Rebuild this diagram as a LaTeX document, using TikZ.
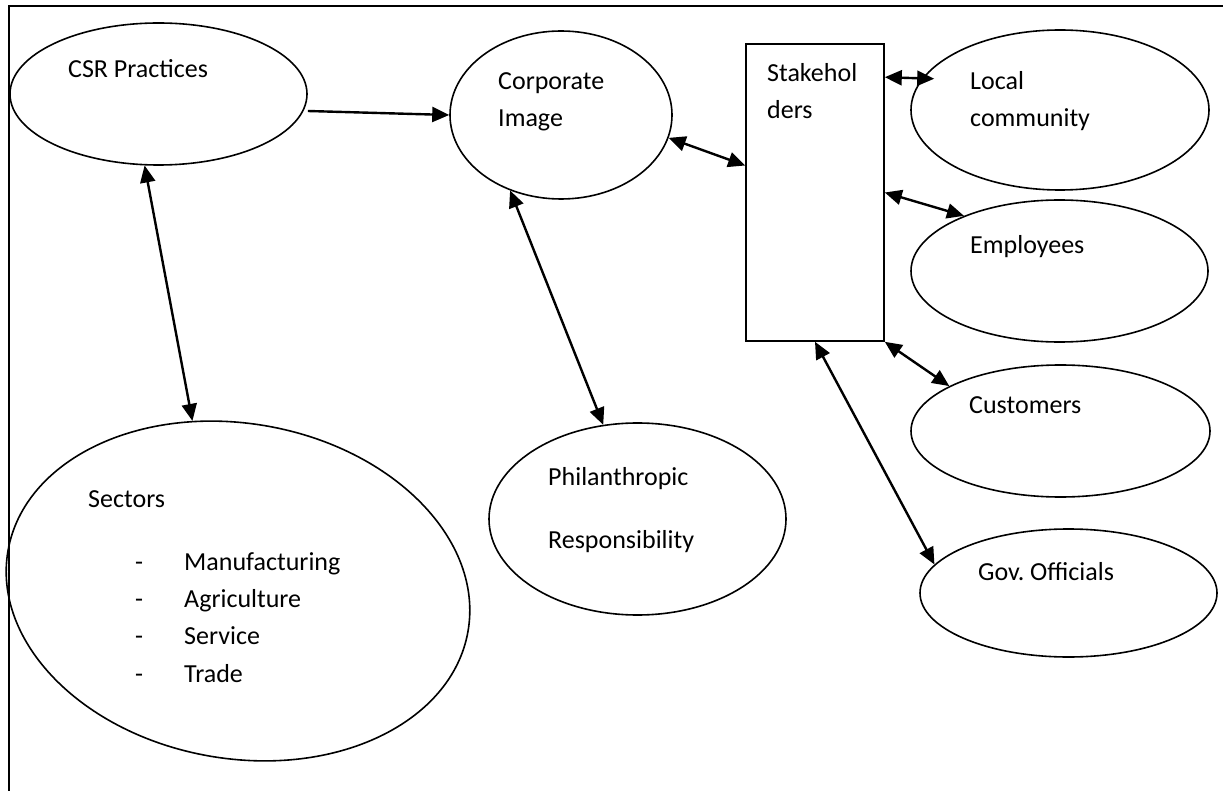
\documentclass[tikz,border=0pt]{standalone}
\usepackage{fontspec}
\setmainfont{Carlito}
\usetikzlibrary{shapes.geometric,arrows.meta}

\begin{document}
\begin{tikzpicture}[x=1pt,y=-1pt,
  ell/.style={draw,ellipse,line width=1.6pt,inner sep=0pt},
  lbl/.style={anchor=base west,inner sep=0pt,font=\fontsize{26}{31}\selectfont},
  link/.style={line width=2.4pt},
  >={Triangle[length=17pt,width=15pt]}]
\useasboundingbox (0,0) rectangle (1223,791);
% frame
\draw[line width=2pt] (9,791) -- (9,6) -- (1223,6);
% ellipses and the stakeholder box
\node[ell,minimum width=297pt,minimum height=142pt] (csr) at (158.5,94) {};
\node[ell,minimum width=222pt,minimum height=168pt] (corp) at (561,115) {};
\node[draw,rectangle,line width=1.6pt,minimum width=138pt,minimum height=297pt,inner sep=0pt] (stake) at (815,192.5) {};
\node[ell,minimum width=298pt,minimum height=160pt] (local) at (1060,110) {};
\node[ell,minimum width=297pt,minimum height=142pt] (emp) at (1059.5,271) {};
\node[ell,minimum width=299pt,minimum height=132pt] (cust) at (1060.5,431) {};
\node[ell,minimum width=297pt,minimum height=128pt] (gov) at (1068.5,593) {};
\node[ell,minimum width=297pt,minimum height=192pt] (phil) at (637.5,519) {};
\node[ell,rotate=-10,minimum width=467pt,minimum height=335pt] (sec) at (238,591) {};
% labels
\node[lbl] (csrT) at (68,78) {CSR Practices};
\node[lbl] (corpA) at (498,90) {Corporate};
\node[lbl] (corpB) at (498,127) {Image};
\node[lbl] (stakeA) at (767,82) {Stakehol};
\node[lbl] (stakeB) at (767,119) {ders};
\node[lbl] (localA) at (970,90) {Local};
\node[lbl] (localB) at (970,127) {community};
\node[lbl] (empT) at (970,254) {Employees};
\node[lbl] (custT) at (969,413) {Customers};
\node[lbl] (govT) at (978,580) {Gov.\ Officials};
\node[lbl] (philA) at (548,485) {Philanthropic};
\node[lbl] (philB) at (548,548) {Responsibility};
\node[lbl] (secT) at (88,507) {Sectors};
\foreach \t [count=\i] in {Manufacturing,Agriculture,Service,Trade}{
  \node[lbl] (dash\i) at (135,533+37.3*\i) {-};
  \node[lbl] (item\i) at (184,533+37.3*\i) {\t};
}
% connectors
\draw[->,link] ([yshift=-17pt]csr.east) -- (corp.west);
\draw[<->,link] (csr.259) -- (sec.115);
\draw[<->,link] (corp.236) -- (phil.110);
\draw[<->,link] (corp.-12) -- ([yshift=27pt]stake.west);
\draw[<->,link,shorten >=-24pt] ([yshift=-34pt]stake.north east) -- ([yshift=32pt]local.west);
\draw[<->,link] (stake.east) -- (emp.150);
\draw[<->,link] (stake.south east) -- (cust.158);
\draw[<->,link] (stake.south) -- (gov.168);
\end{tikzpicture}
\end{document}
